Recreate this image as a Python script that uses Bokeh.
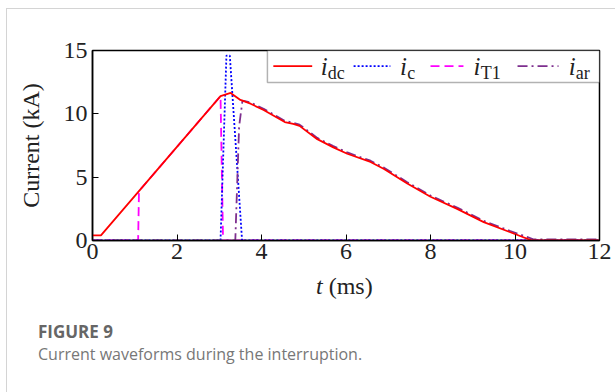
from bokeh.plotting import figure
from bokeh.models import Label, BoxAnnotation, FixedTicker, Range1d, Div
from bokeh.layouts import column
from bokeh.embed import file_html
from bokeh.resources import INLINE

# Current waveforms (t in ms, current in kA)
t_dc = [0, 0.2, 3.03, 3.27, 3.5, 3.74, 4.05, 4.55, 4.75, 4.9, 5.32, 5.7, 6.03,
        6.58, 6.9, 7.45, 8.0, 8.63, 9.26, 9.89, 10.4, 12.0]
i_dc = [0.4, 0.4, 11.4, 11.65, 11.1, 10.8, 10.3, 9.35, 9.2, 9.05, 8.0, 7.35, 6.85,
        6.2, 5.65, 4.5, 3.45, 2.5, 1.45, 0.65, 0.0, 0.0]

t_c = [0, 3.03, 3.17, 3.25, 3.54, 12.0]
i_c = [0, 0, 14.6, 14.6, 0, 0]

t_T1 = [0, 1.08, 1.1, 3.03, 3.09, 12.0]
i_T1 = [0, 0, 3.9, 11.4, 0, 0]

t_ar = [0, 3.38, 3.47, 3.55, 3.74, 4.05, 4.55, 4.75, 4.9, 5.32, 5.7, 6.03, 6.58,
        6.9, 7.45, 8.0, 8.63, 9.26, 9.89, 10.45, 12.0]
i_ar = [0, 0, 9.0, 11.05, 10.9, 10.4, 9.45, 9.3, 9.15, 8.1, 7.45, 6.95, 6.3,
        5.75, 4.6, 3.55, 2.6, 1.55, 0.75, 0.08, 0.08]

x_ticks = [0, 2, 4, 6, 8, 10, 12]
y_ticks = [0, 5, 10, 15]

SERIF = "Liberation Serif"
SANS = "Open Sans"
INK = "#222222"

p = figure(width=608, height=262, output_backend="svg", toolbar_location=None,
           x_range=Range1d(0, 12), y_range=Range1d(0, 15),
           min_border_left=85, min_border_right=16, min_border_top=41,
           min_border_bottom=31)
p.grid.visible = False
p.background_fill_color = "white"
p.border_fill_color = "white"
p.outline_line_color = "black"
p.outline_line_width = 1.5

for ax in (p.xaxis[0], p.yaxis[0]):
    ax.axis_line_color = "black"
    ax.axis_line_width = 1.5
    ax.major_tick_in = 6
    ax.major_tick_out = 0
    ax.major_tick_line_color = "black"
    ax.minor_tick_line_color = None
    ax.major_label_text_font = SERIF
    ax.major_label_text_font_size = "24px"
    ax.major_label_text_color = INK

p.xaxis.ticker = FixedTicker(ticks=x_ticks)
p.yaxis.ticker = FixedTicker(ticks=y_ticks)
p.xaxis.major_label_standoff = 3
p.yaxis.major_label_standoff = 5

p.yaxis.axis_label = "Current (kA)"
p.yaxis.axis_label_text_font = SERIF
p.yaxis.axis_label_text_font_style = "normal"
p.yaxis.axis_label_text_font_size = "24px"
p.yaxis.axis_label_text_color = INK
p.yaxis.axis_label_standoff = 17

# legend box sits under the curves
p.add_layout(BoxAnnotation(left=4.14, right=12, bottom=12.47, top=15,
                           fill_color="white", fill_alpha=1, level="underlay",
                           line_color="black", line_width=1.5))

# series, drawn back to front
p.line(t_T1, i_T1, line_color="#ff00ff", line_width=1.8, line_dash="9 5")
p.line(t_c, i_c, line_color="#0000ff", line_width=1.8, line_dash="2 2")
p.line(t_ar, i_ar, line_color="#7e2f8e", line_width=1.8, line_dash="10 4 2 4")
p.line(t_dc, i_dc, line_color="#ff0000", line_width=1.8)

legend_y = 13.76
entries = [
    ("dc", "#ff0000", None, 4.28, 5.2, 5.4),
    ("c", "#0000ff", "2 2", 6.18, 7.05, 7.28),
    ("T1", "#ff00ff", "9 5", 8.0, 8.78, 9.02),
    ("ar", "#7e2f8e", "10 4 2 4", 10.06, 11.03, 11.27),
]
for sub, color, dash, x0, x1, xt in entries:
    kw = dict(line_color=color, line_width=1.8)
    if dash:
        kw["line_dash"] = dash
    p.line([x0, x1], [legend_y, legend_y], **kw)
    p.add_layout(Label(x=xt, y=legend_y, text="i", text_font=SERIF,
                       text_font_style="italic", text_font_size="25px",
                       text_color=INK, text_baseline="middle"))
    p.add_layout(Label(x=xt + 0.17, y=legend_y - 0.5, text=sub, text_font=SERIF,
                       text_font_size="18px", text_color=INK,
                       text_baseline="middle"))

# x-axis title and figure caption
below = Div(
    width=608, height=121, margin=0,
    text=(
        '<div style="position:relative;width:608px;height:121px;">'
        f'<div style="position:absolute;left:309px;top:2px;font-family:\'{SERIF}\';'
        f'font-size:24px;line-height:26px;color:{INK};white-space:nowrap;">'
        '<i>t</i> (ms)</div>'
        f'<div style="position:absolute;left:31px;top:51px;font-family:\'{SANS}\';'
        'font-size:17px;font-weight:bold;line-height:20px;color:#666666;'
        'white-space:nowrap;">FIGURE 9</div>'
        f'<div style="position:absolute;left:31px;top:73px;font-family:\'{SANS}\';'
        'font-size:16px;line-height:20px;color:#777777;white-space:nowrap;">'
        'Current waveforms during the interruption.</div>'
        '</div>'
    ),
)

layout = column(p, below, margin=(8, 0, 0, 6), spacing=0,
                styles={"border-top": "1px solid #d4d4d4",
                        "border-left": "1px solid #d4d4d4"})

open("out.html", "w").write(file_html(layout, INLINE))
